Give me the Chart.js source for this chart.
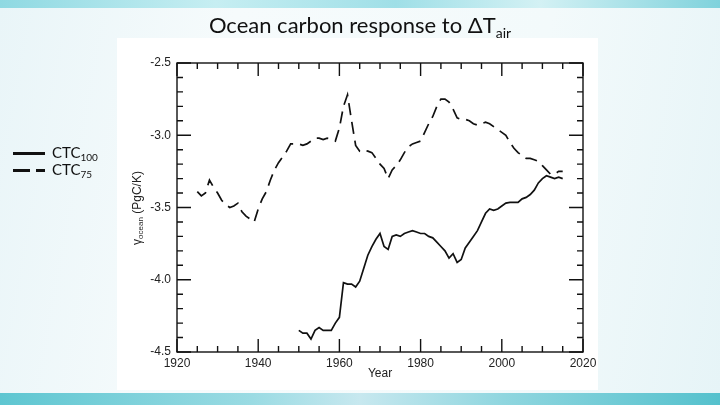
<!DOCTYPE html>
<html>
<head>
<meta charset="utf-8">
<script src="https://cdn.jsdelivr.net/npm/chart.js@4.4.0/dist/chart.umd.min.js"></script>
<style>
  html, body { margin: 0; padding: 0; }
  body {
    width: 720px; height: 405px; position: relative; overflow: hidden;
    background: linear-gradient(100deg, #e9f5f8 0%, #f6fbfc 30%, #f3fafb 70%, #e6f4f7 100%);
    font-family: Lato, "Open Sans", sans-serif;
  }
  .band-top {
    position: absolute; left: 0; top: 0; width: 720px; height: 8px;
    background: linear-gradient(90deg, #8fd9e2 0%, #c6eef2 30%, #9fdfe7 55%, #d3f1f4 75%, #7fd2dc 100%);
  }
  .band-bottom {
    position: absolute; left: 0; top: 393px; width: 720px; height: 12px;
    background: linear-gradient(90deg, #5ec6d1 0%, #9adbe3 35%, #c7e8ef 50%, #8fd6df 70%, #55c1cd 100%);
  }
  .panel {
    position: absolute; left: 117px; top: 38px; width: 481px; height: 352px;
    background: #ffffff;
  }
  #chart { position: absolute; left: 0; top: 0; }
  .title {
    position: absolute; left: 0; width: 720px; top: 11px;
    text-align: center; font-size: 22px; color: #111;
  }
  .title sub { font-size: 14px; vertical-align: -5px; line-height: 0; }
  .legend { position: absolute; left: 13px; top: 143px; font-size: 15px; color: #111; }
  .legend .row { height: 17px; position: relative; }
  .legend .seg { position: absolute; top: 9px; height: 3px; background: #111; }
  .legend .lbl { position: absolute; left: 39px; top: 0; }
  .legend sub { font-size: 10px; vertical-align: -3px; line-height: 0; }
  .ytitle {
    position: absolute; left: 137px; top: 208px;
    transform: translate(-50%, -50%) rotate(-90deg);
    white-space: nowrap; font-family: "Liberation Sans", Arial, sans-serif;
    font-size: 12px; color: #222;
  }
  .ytitle sub { font-size: 8px; vertical-align: -2px; line-height: 0; }
</style>
</head>
<body>
<div class="band-top"></div>
<div class="band-bottom"></div>
<div class="panel"></div>
<canvas id="chart" width="720" height="405"></canvas>
<div class="title">Ocean carbon response to &Delta;T<sub>air</sub></div>
<div class="legend">
  <div class="row"><div class="seg" style="left:0;width:32px"></div><div class="lbl">CTC<sub>100</sub></div></div>
  <div class="row"><div class="seg" style="left:0;width:17px"></div><div class="seg" style="left:23px;width:9px"></div><div class="lbl">CTC<sub>75</sub></div></div>
</div>
<div class="ytitle">&gamma;<sub>ocean</sub> (PgC/K)</div>

<script>
const years = [
  1925, 1926, 1927, 1928, 1929, 1930, 1931, 1932, 1933, 1934,
  1935, 1936, 1937, 1938, 1939, 1940, 1941, 1942, 1943, 1944,
  1945, 1946, 1947, 1948, 1949, 1950, 1951, 1952, 1953, 1954,
  1955, 1956, 1957, 1958, 1959, 1960, 1961, 1962, 1963, 1964,
  1965, 1966, 1967, 1968, 1969, 1970, 1971, 1972, 1973, 1974,
  1975, 1976, 1977, 1978, 1979, 1980, 1981, 1982, 1983, 1984,
  1985, 1986, 1987, 1988, 1989, 1990, 1991, 1992, 1993, 1994,
  1995, 1996, 1997, 1998, 1999, 2000, 2001, 2002, 2003, 2004,
  2005, 2006, 2007, 2008, 2009, 2010, 2011, 2012, 2013, 2014,
  2015
];

// CTC100 (solid), starts 1950
const ctc100 = [
  null, null, null, null, null, null, null, null, null, null,
  null, null, null, null, null, null, null, null, null, null,
  null, null, null, null, null, -4.35, -4.37, -4.37, -4.41, -4.35,
  -4.33, -4.35, -4.35, -4.35, -4.30, -4.26, -4.02, -4.03, -4.03, -4.05,
  -4.01, -3.92, -3.83, -3.77, -3.72, -3.68, -3.77, -3.79, -3.70, -3.69,
  -3.70, -3.68, -3.67, -3.66, -3.67, -3.68, -3.68, -3.70, -3.71, -3.74,
  -3.77, -3.80, -3.85, -3.82, -3.88, -3.86, -3.78, -3.74, -3.70, -3.66,
  -3.60, -3.54, -3.51, -3.52, -3.51, -3.49, -3.47, -3.465, -3.465, -3.465,
  -3.44, -3.43, -3.41, -3.38, -3.33, -3.30, -3.28, -3.29, -3.30, -3.29,
  -3.30
];

// CTC75 (dashed), starts 1925
const ctc75 = [
  -3.39, -3.42, -3.40, -3.31, -3.36, -3.40, -3.45, -3.48, -3.50, -3.49,
  -3.47, -3.53, -3.56, -3.58, -3.60, -3.51, -3.44, -3.39, -3.31, -3.24,
  -3.19, -3.15, -3.11, -3.06, -3.06, -3.06, -3.07, -3.06, -3.04, -3.02,
  -3.02, -3.03, -3.02, -3.03, -3.04, -2.95, -2.80, -2.72, -2.90, -3.07,
  -3.11, -3.10, -3.11, -3.12, -3.16, -3.20, -3.23, -3.30, -3.24, -3.21,
  -3.17, -3.12, -3.08, -3.06, -3.05, -3.04, -2.98, -2.92, -2.87, -2.80,
  -2.75, -2.75, -2.77, -2.82, -2.88, -2.89, -2.89, -2.90, -2.92, -2.93,
  -2.92, -2.91, -2.92, -2.94, -2.96, -2.98, -3.00, -3.05, -3.09, -3.12,
  -3.14, -3.16, -3.16, -3.17, -3.18, -3.21, -3.24, -3.27, -3.27, -3.25,
  -3.25
];

const xTicks = [1920, 1940, 1960, 1980, 2000, 2020];
const yTicks = [-4.5, -4.0, -3.5, -3.0, -2.5];

const toPoints = vals => years.map((yr, i) => ({ x: yr, y: vals[i] }));

// inward tick marks on all four sides, placed through the scales
const frameTicks = {
  id: 'frameTicks',
  afterDatasetsDraw(chart) {
    const { ctx, chartArea: a, scales: { x, y } } = chart;
    ctx.save();
    ctx.strokeStyle = '#111';
    ctx.lineWidth = 1.4;
    ctx.strokeRect(a.left, a.top, a.right - a.left, a.bottom - a.top);
    ctx.beginPath();
    for (let yr = 1920; yr <= 2020; yr += 5) {
      const px = x.getPixelForValue(yr);
      const len = yr % 20 === 0 ? 13 : 6;
      ctx.moveTo(px, a.bottom); ctx.lineTo(px, a.bottom - len);
      ctx.moveTo(px, a.top); ctx.lineTo(px, a.top + len);
    }
    for (let k = -45; k <= -25; k++) {
      const py = y.getPixelForValue(k / 10);
      const len = k % 5 === 0 ? 14 : 6;
      ctx.moveTo(a.left, py); ctx.lineTo(a.left + len, py);
      ctx.moveTo(a.right, py); ctx.lineTo(a.right - len, py);
    }
    ctx.stroke();
    ctx.restore();
  }
};

const tickFont = { family: '"Liberation Sans", Arial, sans-serif', size: 12 };

new Chart(document.getElementById('chart'), {
  type: 'line',
  data: {
    datasets: [
      {
        label: 'CTC100',
        data: toPoints(ctc100),
        borderColor: '#111',
        borderWidth: 1.7,
        pointRadius: 0,
        tension: 0
      },
      {
        label: 'CTC75',
        data: toPoints(ctc75),
        borderColor: '#111',
        borderWidth: 1.7,
        borderDash: [12, 7],
        pointRadius: 0,
        tension: 0
      }
    ]
  },
  options: {
    responsive: false,
    animation: false,
    devicePixelRatio: 1,
    layout: { padding: { left: 117, top: 63, right: 137, bottom: 24 } },
    plugins: { legend: { display: false }, tooltip: { enabled: false } },
    scales: {
      x: {
        type: 'linear',
        min: 1920, max: 2020,
        grid: { display: false, drawTicks: false },
        border: { display: false },
        afterBuildTicks: s => { s.ticks = xTicks.map(v => ({ value: v })); },
        afterFit: s => { s.height = 29; s.paddingLeft = 0; s.paddingRight = 0; },
        ticks: {
          font: tickFont, color: '#222', padding: 4, maxRotation: 0, autoSkip: false,
          callback: v => String(v)
        },
        title: { display: true, text: 'Year', font: tickFont, color: '#222', padding: 0 }
      },
      y: {
        type: 'linear',
        min: -4.5, max: -2.5,
        grid: { display: false, drawTicks: false },
        border: { display: false },
        afterBuildTicks: s => { s.ticks = yTicks.map(v => ({ value: v })); },
        afterFit: s => { s.width = 60; s.paddingTop = 0; s.paddingBottom = 0; },
        ticks: {
          font: tickFont, color: '#222', padding: 6,
          callback: v => v.toFixed(1)
        }
      }
    }
  },
  plugins: [frameTicks]
});
</script>
</body>
</html>
